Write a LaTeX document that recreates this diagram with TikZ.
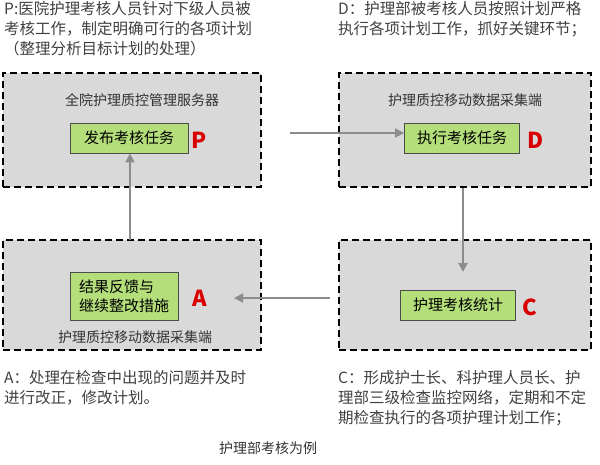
\documentclass[tikz,border=0pt]{standalone}
\usepackage{fontspec}
\setmainfont{Noto Sans CJK SC}
\usetikzlibrary{arrows.meta}
\definecolor{tg}{HTML}{B3DE7A}
\begin{document}
\begin{tikzpicture}[x=1pt,y=-1pt,
 outer/.style={draw=black,fill=black!15,dashed,dash pattern=on 7pt off 4pt,line width=2pt},
 task/.style={draw=black!70,fill=tg,line width=0.8pt,minimum height=30pt,inner sep=3pt,font=\fontsize{15}{19}\selectfont},
 lab/.style={font=\fontsize{14}{16}\selectfont,text=black!80},
 big/.style={text=red!85!black,font=\fontsize{22}{22}\selectfont\bfseries},
 note/.style={font=\fontsize{15.5}{20}\selectfont,text=black!75,align=left,anchor=north west,inner sep=0pt},
 flow/.style={draw=black!45,line width=1.8pt,-{Triangle[length=9pt,width=9pt]}}]
\useasboundingbox (0,0) rectangle (600,464);
\node[outer,minimum width=258pt,minimum height=114pt] (tl) at (132,130) {};
\node[outer,minimum width=252pt,minimum height=114pt] (tr) at (465,130) {};
\node[outer,minimum width=258pt,minimum height=110pt] (bl) at (132,295) {};
\node[outer,minimum width=252pt,minimum height=110pt] (br) at (465,295) {};
\node[lab] (tll) at (142,100) {全院护理质控管理服务器};
\node[lab] (trl) at (465,100) {护理质控移动数据采集端};
\node[lab] (bll) at (135,337) {护理质控移动数据采集端};
\node[task,minimum width=118pt] (p) at (129,138) {发布考核任务};
\node[task,minimum width=115pt] (d) at (462,138) {执行考核任务};
\node[task,minimum width=115pt] (c) at (458,305) {护理考核统计};
\node[task,minimum width=108pt,align=left,minimum height=48pt] (a) at (124,296) {结果反馈与\\继续整改措施};
\node[big] (pl) at (199,140) {P};
\node[big] (dl) at (536,140) {D};
\node[big] (cl) at (530,307) {C};
\node[big] (al) at (200,298) {A};
\coordinate (s1) at (290,133);
\draw[flow] (s1) -- (d.west|-s1);
\coordinate (s2) at (463,188);
\draw[flow] (s2) -- (463,272);
\coordinate (s3) at (330,298);
\draw[flow] (s3) -- (234,298);
\coordinate (s4) at (130,240);
\draw[flow] (s4) -- (p.south-|s4);
\node[note] (np) at (4,1) {P:医院护理考核人员针对下级人员被\\考核工作，制定明确可行的各项计划\\（整理分析目标计划的处理）};
\node[note] (nd) at (338,1) {D：护理部被考核人员按照计划严格\\执行各项计划工作，抓好关键环节；};
\node[note] (na) at (4,370) {A：处理在检查中出现的问题并及时\\进行改正，修改计划。};
\node[note] (nc) at (338,370) {C：形成护士长、科护理人员长、护\\理部三级检查监控网络，定期和不定\\期检查执行的各项护理计划工作；};
\node[font=\fontsize{14}{16}\selectfont,text=black!80] (cap) at (268,448) {护理部考核为例};
\end{tikzpicture}
\end{document}
